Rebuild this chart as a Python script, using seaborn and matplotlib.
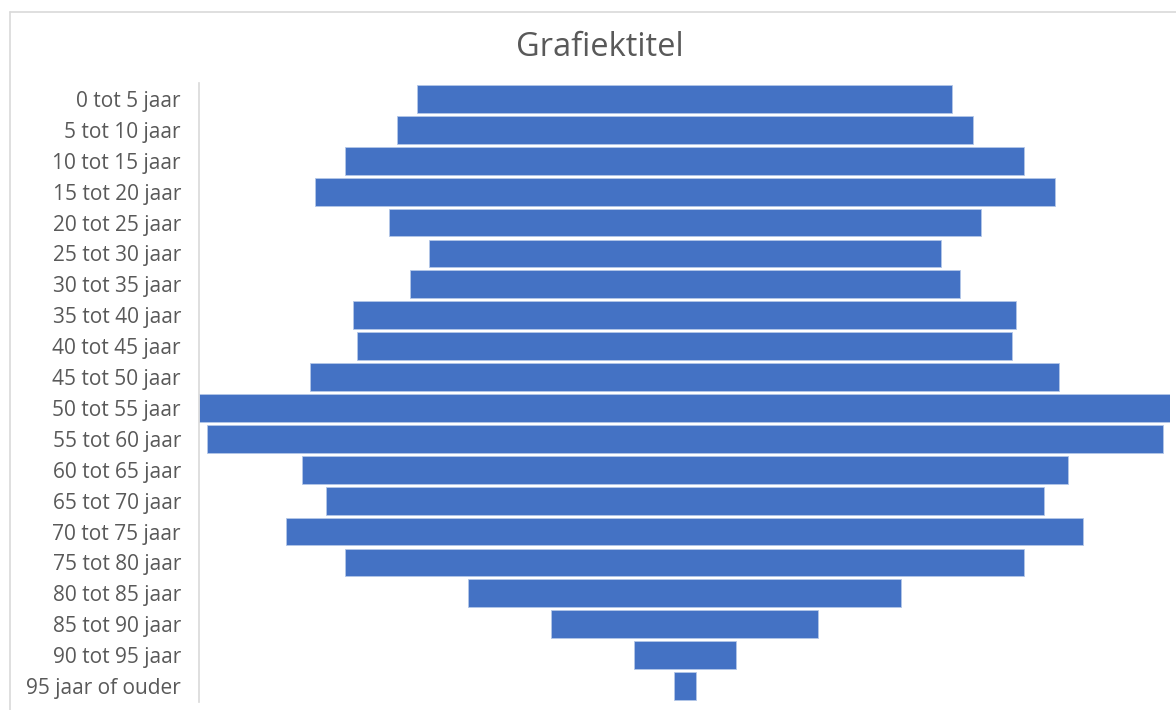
import seaborn as sns
import matplotlib.pyplot as plt
import pandas as pd
from matplotlib.lines import Line2D

# Leeftijdsgroepen en waarden (funnel, gecentreerd)
categories = [
    '0 tot 5 jaar', '5 tot 10 jaar', '10 tot 15 jaar', '15 tot 20 jaar',
    '20 tot 25 jaar', '25 tot 30 jaar', '30 tot 35 jaar', '35 tot 40 jaar',
    '40 tot 45 jaar', '45 tot 50 jaar', '50 tot 55 jaar', '55 tot 60 jaar',
    '60 tot 65 jaar', '65 tot 70 jaar', '70 tot 75 jaar', '75 tot 80 jaar',
    '80 tot 85 jaar', '85 tot 90 jaar', '90 tot 95 jaar', '95 jaar of ouder',
]
values = [535, 576, 679, 740, 592, 512, 550, 663, 655, 749,
          971, 956, 766, 718, 797, 679, 433, 267, 102, 22]
title = 'Grafiektitel'

BAR_COLOR = '#4472C4'
TEXT_COLOR = '#595959'
LINE_COLOR = '#D9D9D9'

sns.set_theme(style='white')
plt.rcParams['font.family'] = ['Open Sans', 'DejaVu Sans']

df = pd.DataFrame({'group': categories, 'value': values})

fig = plt.figure(figsize=(11.76, 7.1), dpi=100)
ax = fig.add_axes([199 / 1176, 1 - 701.5 / 710, (1170 - 199) / 1176, (701.5 - 83.5) / 710])

sns.barplot(
    data=df
    , x='value'
    , y='group'
    , order=categories
    , color=BAR_COLOR
    , saturation=1
    , width=0.9
    , edgecolor='#B4C7E7'
    , linewidth=0.6
    , ax=ax
)

# Bars centreren rond nul (funnel)
for patch, v in zip(ax.patches, values):
    patch.set_x(-v / 2)

vmax = max(values)
ax.set_xlim(-vmax / 2, vmax / 2)
ax.set_ylim(len(categories) - 0.5, -0.5)
ax.set(xlabel='', ylabel='')
ax.set_xticks([])
ax.tick_params(axis='y', length=0, pad=13, labelsize=15, labelcolor=TEXT_COLOR)

sns.despine(ax=ax, top=True, right=True, bottom=True, left=False)
ax.spines['left'].set_color(LINE_COLOR)
ax.spines['left'].set_linewidth(1.2)

fig.text(599.5 / 1176, 1 - 48 / 710, title, ha='center', va='center',
         fontsize=23.5, color=TEXT_COLOR)

# Rand van het grafiekgebied
fig.add_artist(Line2D([10 / 1176, 10 / 1176], [0, 1 - 12 / 710],
                      transform=fig.transFigure, color=LINE_COLOR, lw=1.2))
fig.add_artist(Line2D([10 / 1176, 1], [1 - 12 / 710, 1 - 12 / 710],
                      transform=fig.transFigure, color=LINE_COLOR, lw=1.2))

fig.savefig('out.png', dpi=100)
